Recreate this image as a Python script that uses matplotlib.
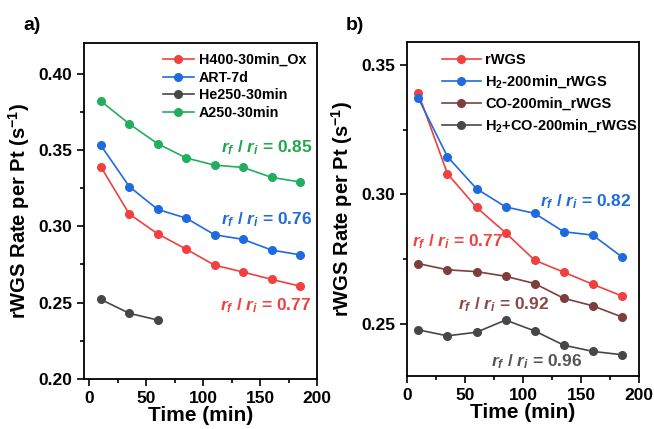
import matplotlib
matplotlib.use('Agg')
import matplotlib.pyplot as plt
from matplotlib.ticker import MultipleLocator

plt.rcParams['font.family'] = ['Liberation Sans', 'DejaVu Sans']
plt.rcParams['font.weight'] = 'bold'
plt.rcParams['mathtext.fontset'] = 'custom'
plt.rcParams['mathtext.rm'] = 'Liberation Sans:bold'
plt.rcParams['mathtext.it'] = 'Liberation Sans:bold:italic'
plt.rcParams['mathtext.bf'] = 'Liberation Sans:bold'

# data
time = [10, 35, 60, 85, 110, 135, 160, 185]

a_labels = ['H400-30min_Ox', 'ART-7d', 'He250-30min', 'A250-30min']
a_h400 = [0.339, 0.308, 0.295, 0.285, 0.2745, 0.270, 0.2652, 0.2608]
a_art = [0.353, 0.326, 0.311, 0.3053, 0.2944, 0.2914, 0.2844, 0.2813]
a_he250 = [0.2521, 0.243, 0.2386]
a_a250 = [0.382, 0.367, 0.354, 0.3447, 0.340, 0.3385, 0.332, 0.329]

b_labels = ['rWGS', 'H$_2$-200min_rWGS', 'CO-200min_rWGS', 'H$_2$+CO-200min_rWGS']
b_rwgs = [0.339, 0.308, 0.295, 0.2852, 0.2746, 0.270, 0.2653, 0.2608]
b_h2 = [0.3371, 0.3146, 0.3022, 0.2952, 0.2927, 0.2856, 0.2843, 0.2759]
b_co = [0.2733, 0.2709, 0.2702, 0.2684, 0.2656, 0.2599, 0.2570, 0.2527]
b_h2co = [0.2477, 0.2454, 0.2468, 0.2515, 0.2473, 0.2418, 0.2394, 0.2381]

red = '#F23F3F'
blue = '#1E6BE0'
grey = '#474747'
green = '#23AD5E'
brown = '#7E3E3E'

fig = plt.figure(figsize=(6.54, 4.29), dpi=100)
ax1 = fig.add_axes([0.128, 0.1166, 0.357, 0.7832])
ax2 = fig.add_axes([0.622, 0.1242, 0.3555, 0.7786])

kw = dict(marker='o', markersize=5.5, linewidth=1.2)


def style(ax):
    for s in ax.spines.values():
        s.set_visible(True)
        s.set_color('black')
        s.set_linewidth(1.3)
    ax.tick_params(which='both', direction='out', top=False, right=False,
                   labelsize=12.5, width=1.2)
    ax.tick_params(which='major', length=5)
    ax.tick_params(which='minor', length=3)
    ax.xaxis.set_major_locator(MultipleLocator(50))
    ax.xaxis.set_minor_locator(MultipleLocator(25))
    ax.set_xlabel('Time (min)', fontsize=15, fontweight='bold', labelpad=0)
    ax.set_ylabel('rWGS Rate per Pt (s$^{-1}$)', fontsize=14.5, fontweight='bold', labelpad=4)


# panel a
ax1.plot(time, a_h400, color=red, label=a_labels[0], **kw)
ax1.plot(time, a_art, color=blue, label=a_labels[1], **kw)
ax1.plot(time[:3], a_he250, color=grey, label=a_labels[2], **kw)
ax1.plot(time, a_a250, color=green, label=a_labels[3], **kw)
ax1.set_xlim(-5, 200)
ax1.set_ylim(0.2, 0.42)
ax1.yaxis.set_major_locator(MultipleLocator(0.05))
ax1.yaxis.set_minor_locator(MultipleLocator(0.025))
ax1.yaxis.set_major_formatter(plt.FormatStrFormatter('%.2f'))
style(ax1)
ax1.legend(loc='upper left', bbox_to_anchor=(0.338, 0.97), frameon=False,
           fontsize=10.25, handlelength=2.2, handletextpad=0.35,
           labelspacing=0.25, borderpad=0, borderaxespad=0)

ann = dict(fontsize=12.5, fontweight='bold', va='center')
ax1.text(196, 0.3514, '$r_f$ / $r_i$ = 0.85', color='#1FA84C', ha='right', **ann)
ax1.text(196, 0.304, '$r_f$ / $r_i$ = 0.76', color=blue, ha='right', **ann)
ax1.text(195, 0.2478, '$r_f$ / $r_i$ = 0.77', color=red, ha='right', **ann)
fig.text(0.035, 0.94, 'a)', fontsize=14, fontweight='bold', va='center')

# panel b
ax2.plot(time, b_rwgs, color=red, label=b_labels[0], **kw)
ax2.plot(time, b_h2, color=blue, label=b_labels[1], **kw)
ax2.plot(time, b_co, color=brown, label=b_labels[2], **kw)
ax2.plot(time, b_h2co, color=grey, label=b_labels[3], **kw)
ax2.set_xlim(0, 200)
ax2.set_ylim(0.23, 0.359)
ax2.yaxis.set_major_locator(MultipleLocator(0.05))
ax2.yaxis.set_minor_locator(MultipleLocator(0.025))
ax2.yaxis.set_major_formatter(plt.FormatStrFormatter('%.2f'))
style(ax2)
ax2.legend(loc='upper left', bbox_to_anchor=(0.15, 0.967), frameon=False,
           fontsize=10.5, handlelength=2.7, handletextpad=0.3,
           labelspacing=0.45, borderpad=0, borderaxespad=0)

ax2.text(193.5, 0.2973, '$r_f$ / $r_i$ = 0.82', color=blue, ha='right', **ann)
ax2.text(4.6, 0.2816, '$r_f$ / $r_i$ = 0.77', color=red, ha='left', **ann)
ax2.text(123, 0.2576, '$r_f$ / $r_i$ = 0.92', color='#8A4848', ha='right', **ann)
ax2.text(150.7, 0.2354, '$r_f$ / $r_i$ = 0.96', color='#555555', ha='right', **ann)
fig.text(0.528, 0.94, 'b)', fontsize=14, fontweight='bold', va='center')

fig.savefig('out.png', dpi=100)
